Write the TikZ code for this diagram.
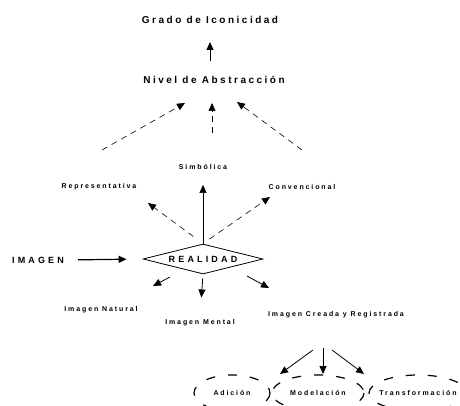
\documentclass[tikz,border=0pt]{standalone}
\usepackage{fontspec}
\setmainfont{Liberation Sans}
\newfontfamily\wideA[LetterSpace=25]{Liberation Sans}
\newfontfamily\wideB[LetterSpace=35]{Liberation Sans}
\newfontfamily\wideC[LetterSpace=27]{Liberation Sans}
\newcommand\titlef{\wideA\bfseries\fontsize{10}{12}\selectfont}
\newcommand\capsf{\wideB\bfseries\fontsize{9}{11}\selectfont}
\newcommand\labf{\wideC\bfseries\fontsize{7}{8}\selectfont}
\usetikzlibrary{arrows.meta,shapes.geometric,positioning}

\begin{document}
\begin{tikzpicture}[x=1pt,y=-1pt,semithick]
	\tikzstyle{title}=[font=\titlef, inner sep=2pt]
	\tikzstyle{lab}=[font=\labf, inner sep=2pt]
	\tikzstyle{caps}=[font=\capsf, inner sep=2pt]
	\tikzstyle{arr}=[-{Triangle[length=8pt,width=7pt]}, thick]
	\tikzstyle{darr}=[arr, semithick, dash pattern=on 6pt off 5pt]
	\tikzstyle{oval}=[very thick, dash pattern=on 9pt off 13pt]

	\useasboundingbox (0,0) rectangle (460,406);

	% levels
	\node[title] (gi)  at (210,20)  {Grado de Iconicidad};
	\node[title] (na)  at (214,80)  {Nivel de Abstracción};
	\node[lab]   (sim) at (203,167) {Simbólica};
	\node[lab]   (rep) at (99,187)  {Representativa};
	\node[lab]   (con) at (302,187) {Convencional};

	% centre
	\node[draw, diamond, thick, aspect=4, minimum width=120, minimum height=30, inner sep=1pt, caps] (real) at (203,259) {REALIDAD};
	\node[caps] (img) at (38,260) {IMAGEN};

	% kinds of image
	\node[lab] (nat) at (101,310) {Imagen Natural};
	\node[lab] (men) at (200,323) {Imagen Mental};
	\node[lab] (cre) at (336,315) {Imagen Creada y Registrada};

	\node[lab] (adi) at (232,393) {Adición};
	\node[lab] (mod) at (318,393) {Modelación};
	\node[lab] (tra) at (418,393) {Transformación};
	\draw[oval] (adi) ellipse [x radius=38, y radius=18];
	\draw[oval] (mod) ellipse [x radius=46, y radius=18];
	\draw[oval] (tra) ellipse [x radius=49, y radius=18];

	% free ends
	\coordinate (r1) at (102,150);
	\coordinate (r2) at (185,103);
	\coordinate (s1) at (212,133);
	\coordinate (s2) at (212,103);
	\coordinate (c1) at (302,150);
	\coordinate (c2) at (237,102);
	\coordinate (rl) at (148,203);
	\coordinate (rr) at (270,197);
	\coordinate (n1) at (170,277);
	\coordinate (n2) at (153,286);
	\coordinate (k1) at (247,276);
	\coordinate (k2) at (269,288);
	\coordinate (b1) at (313,350);
	\coordinate (b2) at (280,374);
	\coordinate (b3) at (323,348);
	\coordinate (b4) at (323,374);
	\coordinate (b5) at (332,350);
	\coordinate (b6) at (364,374);

	\draw[arr, shorten <=13pt, shorten >=16pt] (na.north -| gi.south) -- (gi.south);
	\draw[darr] (r1) -- (r2);
	\draw[darr] (s1) -- (s2);
	\draw[darr] (c1) -- (c2);

	\draw[darr, shorten <=12pt] (real.north) -- (rl);
	\draw[arr, semithick, shorten >=13pt] (real.north) -- (sim.south);
	\draw[darr, shorten <=8pt] (real.north) -- (rr);

	\draw[arr, very thick, shorten <=12pt, shorten >=16pt] (img.east) -- (real.west);

	\draw[arr] (n1) -- (n2);
	\draw[arr, shorten <=4pt, shorten >=20pt] (real.south) -- (men.north);
	\draw[arr] (k1) -- (k2);

	\draw[arr] (b1) -- (b2);
	\draw[arr] (b3) -- (b4);
	\draw[arr] (b5) -- (b6);
\end{tikzpicture}
\end{document}
